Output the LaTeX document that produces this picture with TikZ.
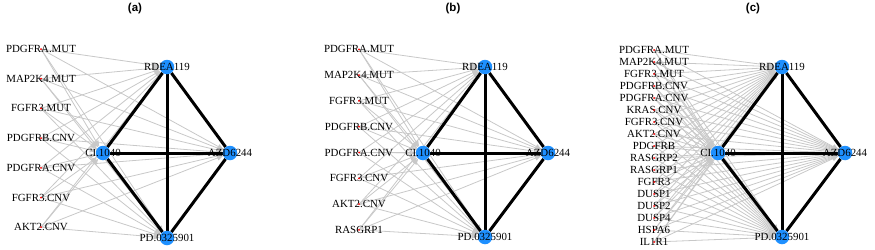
\documentclass[tikz,border=0pt]{standalone}
\usepackage{fontspec}
\setmainfont{Liberation Serif}
\newfontfamily\panelfont{Liberation Sans}
\usetikzlibrary{arrows.meta}
\definecolor{drugblue}{RGB}{30,144,255}
\definecolor{edgegray}{RGB}{200,200,200}
\newcommand{\featfont}{\fontsize{10.9}{12}\selectfont}
\pgfdeclarelayer{edges}
\pgfsetlayers{edges,main}

\begin{document}
\begin{tikzpicture}[x=1pt, y=-1pt,
    drug/.style = {circle, fill=drugblue, inner sep=0pt, minimum size=14.5pt, label={[font=\featfont, inner sep=0pt]center:#1}},
    feat/.style = {font=\featfont, inner sep=0pt, label={[circle, fill=red, inner sep=0pt, minimum size=2pt]center:{}}},
    panel/.style = {font=\panelfont\bfseries\fontsize{11.5}{12}\selectfont},
    gedge/.style = {color=edgegray, line width=0.8pt, -{Triangle[length=6pt, width=5pt]}},
    bedge/.style = {draw=black, line width=3pt}]
    \useasboundingbox (0, 0) rectangle (875, 249);
    % panel titles
    \node[panel] (ta) at (135, 9) {(a)};
    \node[panel] (tb) at (453, 9) {(b)};
    \node[panel] (tc) at (753, 9) {(c)};
    % (a)
    \node[drug=RDEA119] (Ra) at (167, 67) {};
    \node[drug=CI.1040] (Ca) at (103, 153) {};
    \node[drug=AZD6244] (Aa) at (230, 153) {};
    \node[drug=PD.0325901] (Pa) at (167, 238) {};
    \foreach \t [count=\i] in {PDGFRA.MUT, MAP2K4.MUT, FGFR3.MUT, PDGFRB.CNV, PDGFRA.CNV, FGFR3.CNV, AKT2.CNV}
        \node[feat] (a\i) at (41, 19.3+29.7*\i) {\t};
    % (b)
    \node[drug=RDEA119] (Rb) at (485, 67) {};
    \node[drug=CI.1040] (Cb) at (423, 153) {};
    \node[drug=AZD6244] (Ab) at (548, 153) {};
    \node[drug=PD.0325901] (Pb) at (485, 237) {};
    \foreach \t [count=\i] in {PDGFRA.MUT, MAP2K4.MUT, FGFR3.MUT, PDGFRB.CNV, PDGFRA.CNV, FGFR3.CNV, AKT2.CNV, RASGRP1}
        \node[feat] (b\i) at (359, 23.5+25.8*\i) {\t};
    % (c)
    \node[drug=RDEA119] (Rc) at (782, 67) {};
    \node[drug=CI.1040] (Cc) at (718, 153) {};
    \node[drug=AZD6244] (Ac) at (845, 153) {};
    \node[drug=PD.0325901] (Pc) at (782, 237) {};
    \foreach \t [count=\i] in {PDGFRA.MUT, MAP2K4.MUT, FGFR3.MUT, PDGFRB.CNV, PDGFRA.CNV, KRAS.CNV, FGFR3.CNV, AKT2.CNV, PDGFRB, RASGRP2, RASGRP1, FGFR3, DUSP1, DUSP2, DUSP4, HSPA6, IL1R1}
        \node[feat] (c\i) at (654, 38+12*\i) {\t};
    \begin{pgfonlayer}{edges}
        \foreach \i in {1,...,7}
            \foreach \d in {Ra, Ca, Aa, Pa}
                \path[gedge] (a\i.center) edge (\d);
        \foreach \i in {1,...,8}
            \foreach \d in {Rb, Cb, Ab, Pb}
                \path[gedge] (b\i.center) edge (\d);
        \foreach \i in {1,...,17}
            \foreach \d in {Rc, Cc, Ac, Pc}
                \path[gedge] (c\i.center) edge (\d);
        \foreach \p in {a, b, c}
            \path[bedge]
            (R\p) edge (C\p) edge (A\p) edge (P\p)
            (C\p) edge (A\p) edge (P\p)
            (A\p) edge (P\p);
    \end{pgfonlayer}
\end{tikzpicture}
\end{document}
